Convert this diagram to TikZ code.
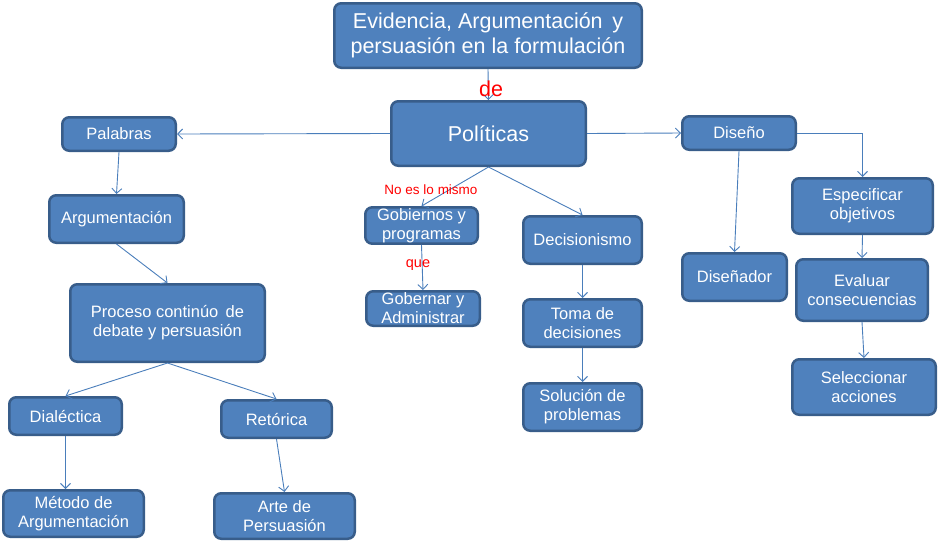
\documentclass[tikz,border=0pt]{standalone}
\usepackage{fontspec}
\setmainfont{Liberation Sans}
\usetikzlibrary{arrows.meta}
\definecolor{boxfill}{HTML}{4F81BD}
\definecolor{boxline}{HTML}{385D8A}
\definecolor{conn}{HTML}{4A7EBB}
\tikzset{
  box/.style={draw=boxline, fill=boxfill, line width=2.5pt, rounded corners=7pt,
    text=white, align=center, inner sep=1pt,
    font=\fontsize{16.5}{19}\selectfont},
  bigbox/.style={box, font=\fontsize{21.5}{25.5}\selectfont},
  conn/.style={draw=conn, line width=0.9pt, -{Straight Barb[length=5pt,width=10pt,line width=0.9pt]}},
  redlab/.style={text=red, inner sep=0pt}
}
\begin{document}
\begin{tikzpicture}[x=1pt,y=-1pt]
\useasboundingbox (0,0) rectangle (939,544);
% boxes
\node[bigbox, minimum width=307.5pt, minimum height=64.5pt] (title) at (488,35.5) {Evidencia, Argumentación\, y\\persuasión en la formulación};
\node[bigbox, minimum width=194.5pt, minimum height=64.5pt] (pol) at (488.5,133.5) {Políticas};
\node[box, minimum width=113.5pt, minimum height=33.5pt] (pal) at (119,134) {Palabras};
\node[box, minimum width=134.5pt, minimum height=47.5pt] (arg) at (116.5,219) {Argumentación};
\node[box, minimum width=194.5pt, minimum height=77.5pt] (proc) at (167.5,323) {Proceso continúo\, de\\debate y persuasión};
\node[box, minimum width=112.5pt, minimum height=37.5pt] (dial) at (65.5,416) {Dialéctica};
\node[box, minimum width=110.5pt, minimum height=37.5pt] (ret) at (276.5,419) {Retórica};
\node[box, minimum width=140.5pt, minimum height=46.5pt] (met) at (73.5,513.5) {Método de\\Argumentación};
\node[box, minimum width=140.5pt, minimum height=45.5pt] (arte) at (284.5,516) {Arte de\\Persuasión};
\node[box, minimum width=112.5pt, minimum height=34.5pt] (gob) at (421.5,225.5) {Gobiernos y\\programas};
\node[box, minimum width=113.5pt, minimum height=34.5pt] (gober) at (423,308.5) {Gobernar y\\Administrar};
\node[box, minimum width=118.5pt, minimum height=47.5pt] (dec) at (582.5,240) {Decisionismo};
\node[box, minimum width=118.5pt, minimum height=47.5pt] (toma) at (582.5,323) {Toma de\\decisiones};
\node[box, minimum width=118.5pt, minimum height=47.5pt] (sol) at (582.5,407) {Solución de\\problemas};
\node[box, minimum width=113.5pt, minimum height=33.5pt] (dis) at (739,133) {Diseño};
\node[box, minimum width=104.5pt, minimum height=47.5pt] (disr) at (734.5,277) {Diseñador};
\node[box, minimum width=140.5pt, minimum height=55.5pt] (esp) at (862.5,206) {Especificar\\objetivos};
\node[box, minimum width=131.5pt, minimum height=61.5pt] (eva) at (862,290) {Evaluar\\consecuencias};
\node[box, minimum width=143.5pt, minimum height=55.5pt] (sel) at (864,387) {Seleccionar\\acciones};
% connectors
\draw[conn] (title.south) -- (pol.north);
\draw[conn] (pol.west) -- (pal.east);
\draw[conn] (pol.east) -- (dis.west);
\draw[conn] (pol.south) -- (gob.north);
\draw[conn] (pol.south) -- (dec.north);
\draw[conn] (gob.south) -- (gober.north);
\draw[conn] (dec.south) -- (toma.north);
\draw[conn] (toma.south) -- (sol.north);
\draw[conn] (pal.south) -- (arg.north);
\draw[conn] (arg.south) -- (proc.north);
\draw[conn] (proc.south) -- (dial.north);
\draw[conn] (proc.south) -- (ret.north);
\draw[conn] (dial.south) -- (dial.south |- met.north);
\draw[conn] (ret.south) -- (arte.north);
\draw[conn] (dis.south) -- (disr.north);
\draw[conn] (dis.east) -| (esp.north);
\draw[conn] (esp.south) -- (eva.north);
\draw[conn] (eva.south) -- (sel.north);
% labels
\node[redlab, font=\fontsize{21.5}{24}\selectfont] (lde) at (491,89) {de};
\node[redlab, font=\fontsize{13.5}{15}\selectfont] (lno) at (431,190) {No es lo mismo};
\node[redlab, font=\fontsize{14.5}{16}\selectfont] (lque) at (418,265) {que};
\end{tikzpicture}
\end{document}
